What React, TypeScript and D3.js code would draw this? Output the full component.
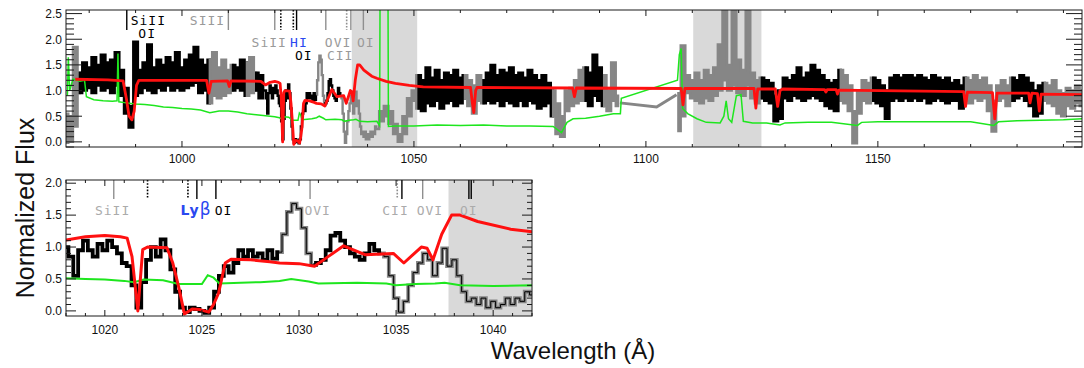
import React from 'react';
import * as d3 from 'd3';

const W = 1084;
const H = 368;

// ---------- DATA ----------
// Observed flux, 975..1017 Å: lower / upper envelope within each 1 Å bin
const fluxLoA = [
  -0.02, 0.0, 0.3, 0.95, 1.0, 1.05, 0.95, 1.1, 1.0, 1.05,
  0.95, 1.1, 0.9, 0.55, 0.28, 0.9, 0.95, 1.05, 1.0, 0.95,
  1.05, 1.0, 1.1, 1.0, 1.05, 1.0, 1.05, 1.1, 1.15, 0.95,
  1.0, 0.75, 0.9, 0.85, 0.9, 0.95, 1.0, 1.05, 1.0, 0.9,
  0.95, 1.0, 0.85,
];
const fluxHiA = [
  0.55, 0.5, 1.85, 1.35, 1.55, 1.45, 1.65, 1.5, 1.7, 1.55,
  1.6, 1.75, 1.4, 1.05, 0.7, 1.95, 1.4, 1.55, 1.9, 1.45,
  1.6, 1.5, 1.65, 1.55, 1.75, 1.45, 1.6, 1.7, 1.85, 1.6,
  1.5, 1.6, 1.75, 1.45, 1.6, 1.4, 1.5, 1.45, 1.6, 1.55,
  1.65, 1.35, 1.3,
];
const fluxAStart = 975;
// Observed flux 1018..1042 Å (0.25 Å bins, zoom panel)
const fluxZoom = [
  1.0, 0.85, 0.55, 0.95, 1.1, 0.95, 0.85, 1.05, 0.95, 1.1,
  1.0, 0.9, 0.75, 0.7, 0.4, 0.05, 0.45, 0.8, 1.0, 0.85,
  1.12, 0.95, 0.65, 0.3, 0.05, -0.02, 0.05, 0.03, 0.0, -0.03,
  0.05, 0.3, 0.55, 0.7, 0.6, 0.75, 0.95, 0.85, 0.95, 0.85,
  0.9, 0.8, 0.95, 0.82, 0.92, 1.2, 1.55, 1.68, 1.6, 1.3,
  0.9, 0.72, 0.75, 0.8, 0.95, 1.18, 1.22, 1.1, 1.0, 0.9,
  0.85, 0.8, 0.9, 1.05, 0.95, 0.9, 0.85, 0.55, 0.2, -0.02,
  0.15, 0.4, 0.6, 0.75, 0.9, 0.8, 0.55, 0.75, 0.98, 0.7,
  0.8, 0.55, 0.3, 0.15, 0.2, 0.1, 0.2, 0.05, 0.15, 0.05,
  0.1, 0.2, 0.1, 0.2, 0.15, 0.3, 0.25,
];
const fluxZoomStart = 1018;
const fluxZoomStep = 0.25;
// Observed flux 1043..1094 Å (envelopes per 1 Å)
const fluxLoB = [
  0.4, 0.5, 0.35, 0.15, 0.0, 0.15, 0.5, 0.8, 0.65, 0.6,
  0.75, 0.7, 0.8, 0.65, 0.75, 0.8, 0.7, 0.75, 0.85, 0.7,
  0.55, 0.8, 0.75, 0.8, 0.75, 0.8, 0.7, 0.8, 0.75, 0.7,
  0.8, 0.7, 0.8, 0.75, 0.65, 0.7, 0.75, 0.5, 0.15, 0.1,
  0.6, 0.7, 0.75, 0.8, 0.8, 0.7, 0.9, 0.8, 0.7, 0.6,
  0.8, 0.7,
];
const fluxHiB = [
  0.6, 0.7, 0.6, 0.35, 0.15, 0.5, 0.85, 1.0, 1.3, 1.2,
  1.45, 1.25, 1.4, 1.2, 1.35, 1.3, 1.4, 1.25, 1.3, 1.2,
  1.1, 1.3, 1.2, 1.35, 1.5, 1.3, 1.4, 1.35, 1.45, 1.3,
  1.35, 1.25, 1.4, 1.3, 1.2, 1.3, 1.15, 1.0, 0.75, 0.5,
  1.0, 1.05, 1.2, 1.4, 1.45, 1.35, 1.7, 1.45, 1.3, 1.0,
  1.55, 0.9,
];
const fluxBStart = 1043;
// Straight bridge across the detector gap
const gapWave = [1094.4, 1102.3, 1106.6];
const gapFlux = [0.76, 0.68, 0.92];
// Observed flux 1107..1194 Å (envelopes per 1 Å)
const fluxLoC = [
  0.21, 0.5, 0.95, 0.85, 0.8, 0.75, 0.85, 0.8, 0.9, 1.0,
  1.2, 1.0, 1.1, 0.95, 0.9, 1.1, 0.85, 0.75, 0.85, 0.8,
  0.75, 0.4, 0.45, 0.85, 0.8, 0.9, 0.85, 0.8, 0.85, 0.9,
  0.85, 0.8, 0.7, 0.65, 0.6, 0.8, 0.75, 0.6, -0.03, 0.55,
  0.8, 0.75, 0.8, 0.75, 0.7, 0.45, 0.8, 0.85, 0.8, 0.85,
  0.8, 0.85, 0.8, 0.85, 0.75, 0.8, 0.85, 0.8, 0.75, 0.8,
  0.8, 0.65, 0.8, 0.75, 0.85, 0.8, 0.85, 0.6, 0.2, 0.8,
  0.85, 0.7, 0.8, 0.85, 0.9, 0.8, 0.7, 0.5, 0.55, 0.8,
  0.75, 0.7, 0.55, 0.5, 0.7, 0.65, 0.75, 0.7,
];
const fluxHiC = [
  0.95, 1.88, 1.3, 1.2, 1.35, 1.2, 1.4, 1.3, 1.45, 1.9,
  3.0, 1.5, 3.0, 1.6, 1.4, 3.0, 1.35, 1.2, 1.25, 1.2,
  1.15, 0.9, 1.0, 1.25, 1.2, 1.3, 1.45, 1.25, 1.35, 1.5,
  1.4, 1.3, 1.2, 1.15, 1.2, 1.4, 1.3, 1.1, 0.6, 1.0,
  1.2, 1.15, 1.25, 1.2, 1.1, 1.0, 1.25, 1.3, 1.25, 1.3,
  1.3, 1.25, 1.3, 1.25, 1.2, 1.3, 1.25, 1.2, 1.25, 1.15,
  1.2, 1.1, 1.25, 1.2, 1.3, 1.2, 1.25, 1.1, 0.8, 1.1,
  1.2, 1.1, 1.25, 1.2, 1.3, 1.25, 1.15, 1.0, 1.1, 1.15,
  1.1, 1.2, 1.0, 0.95, 1.05, 1.0, 1.1, 1.0,
];
const fluxCStart = 1107;
// Wavelength ranges drawn in grey (excluded pixels)
const maskRanges = [
  [975, 978], [1005.5, 1010.5], [1013.5, 1016], [1029, 1030.75],
  [1034.1, 1051], [1061, 1065], [1080, 1086.5], [1090.5, 1124.6],
  [1142, 1149], [1169, 1179], [1186, 1195],
];

// Model (red)
const modelWave = [
  977, 984, 987.3, 988.0, 988.6, 989.2, 989.7, 990.2, 990.7, 1005.3,
  1005.8, 1006.3, 1009.8, 1010.2, 1010.6, 1017, 1018.0, 1019.0, 1020.0, 1020.8,
  1021.15, 1021.4, 1021.7, 1021.95, 1022.2, 1023.2, 1023.5, 1023.8, 1024.1, 1024.5,
  1024.9, 1025.35, 1025.6, 1025.86, 1026.2, 1026.5, 1027.5, 1028.5, 1029.0, 1030.0,
  1030.8, 1031.5, 1032.3, 1033.4, 1034.86, 1035.4, 1036.3, 1036.6, 1036.9, 1037.35,
  1037.86, 1038.3, 1039.2, 1040.9, 1042.0, 1044, 1046, 1049, 1052, 1062.2,
  1062.6, 1062.9, 1063.3, 1063.6, 1084.2, 1084.6, 1085.0, 1107.6, 1108.0, 1108.4,
  1123.3, 1123.7, 1124.1, 1127.9, 1128.4, 1128.9, 1129.5, 1138.5, 1138.8, 1139.1,
  1141.0, 1141.3, 1141.6, 1168.5, 1168.9, 1169.3, 1174.7, 1175.2, 1175.7, 1182.5,
  1182.8, 1183.2, 1184.4, 1184.8, 1185.2, 1194,
];
const modelFlux = [
  1.22, 1.21, 1.19, 0.85, 0.5, 0.43, 0.6, 1.1, 1.2, 1.2,
  0.95, 1.18, 1.19, 1.08, 1.19, 1.18, 1.11, 1.16, 1.18, 1.16,
  1.14, 0.85, 0.0, 0.96, 1.0, 0.99, 0.75, 0.38, -0.05, 0.03,
  0.02, -0.02, 0.1, 0.28, 0.75, 0.81, 0.8, 0.77, 0.75, 0.74,
  0.7, 0.85, 1.02, 0.88, 0.9, 0.75, 1.0, 0.98, 0.8, 1.2,
  1.5, 1.5, 1.4, 1.28, 1.24, 1.18, 1.14, 1.1, 1.07, 1.06,
  0.75, 0.57, 1.0, 1.06, 1.05, 0.88, 1.05, 1.04, 0.72, 1.04,
  1.04, 0.66, 1.03, 1.03, 0.69, 1.0, 1.03, 1.02, 0.97, 1.02,
  1.02, 0.93, 1.01, 0.98, 0.69, 0.97, 0.96, 0.45, 0.95, 0.95,
  0.76, 0.95, 0.94, 0.6, 0.93, 0.92,
];

// Error spectrum (green)
const errWave = [
  975.3, 975.5, 975.8, 976.5, 978, 979, 979.4, 981, 983, 985,
  986.0, 986.2, 986.4, 988, 990, 992, 994, 996, 998, 1000,
  1002, 1004, 1006, 1008, 1010, 1012, 1014, 1016, 1018.0, 1019.0,
  1020.0, 1021.0, 1021.5, 1022.0, 1023.0, 1023.8, 1025.0, 1025.3, 1025.6, 1025.9,
  1027.0, 1028.0, 1029.0, 1029.6, 1030.5, 1031.0, 1033.0, 1034.5, 1035.0, 1036.0,
  1037.0, 1037.5, 1038.3, 1040.0, 1042.0, 1042.6, 1042.7, 1044.4, 1044.5, 1046,
  1050, 1055, 1060, 1065, 1070, 1075, 1080, 1081.8, 1083, 1084.3,
  1087, 1090, 1093, 1094.5, 1094.7, 1106.8, 1107.2, 1107.6, 1107.9, 1109,
  1111, 1113, 1116, 1116.8, 1117.3, 1117.8, 1118.5, 1119.5, 1120.5, 1121,
  1123, 1126, 1128.9, 1130, 1135, 1140, 1145.6, 1146.5, 1150, 1160,
  1170, 1175, 1176, 1180, 1185, 1190, 1194,
];
const errFlux = [
  0.9, 1.65, 1.0, 1.22, 1.18, 1.2, 0.88, 0.82, 0.8, 0.79,
  0.8, 1.72, 0.78, 0.76, 0.74, 0.73, 0.71, 0.68, 0.67, 0.65,
  0.64, 0.62, 0.57, 0.6, 0.6, 0.58, 0.55, 0.53, 0.51, 0.5,
  0.49, 0.47, 0.45, 0.49, 0.48, 0.42, 0.42, 0.56, 0.52, 0.43,
  0.44, 0.45, 0.47, 0.5, 0.46, 0.43, 0.44, 0.43, 0.4, 0.42,
  0.43, 0.44, 0.4, 0.39, 0.4, 0.32, 3.0, 3.0, 0.3, 0.31,
  0.31, 0.33, 0.32, 0.33, 0.31, 0.31, 0.3, 0.18, 0.38, 0.45,
  0.46, 0.5, 0.55, 0.55, 0.85, 1.2, 1.7, 1.82, 0.65, 0.55,
  0.45, 0.38, 0.37, 0.5, 0.8, 0.45, 0.38, 0.9, 0.92, 0.4,
  0.37, 0.37, 0.33, 0.37, 0.38, 0.38, 0.32, 0.38, 0.39, 0.39,
  0.39, 0.32, 0.39, 0.41, 0.42, 0.43, 0.45,
];

// Shaded (excluded) windows
const shadeTop = [[1036.6, 1050.7], [1110.2, 1124.9]];
const shadeZoom = [[1037.7, 1042]];

// Line-identification ticks
const topMarkWave = [988.1, 1010.0, 1020.0, 1021.3, 1024.0, 1024.7, 1031.0, 1035.5, 1036.4, 1039.1];
const topMarkColor = ['k', 'g', 'g', 'k', 'k', 'k', 'g', 'g', 'g', 'g'];
const topMarkDotted = [false, false, false, true, true, false, false, true, false, false];
const zoomMarkWave = [1020.46, 1022.2, 1024.28, 1024.74, 1025.72, 1030.57, 1035.06, 1035.3, 1036.37, 1038.75, 1038.87];
const zoomMarkColor = ['g', 'k', 'k', 'k', 'k', 'g', 'g', 'k', 'g', 'k', 'k'];
const zoomMarkDotted = [false, true, true, false, false, false, true, false, false, false, false];

// Line labels
const topLabelText = ['SiII', 'OI', 'SIII', 'SiII', 'HI', 'OI', 'OVI', 'CII', 'OI'];
const topLabelWave = [988.95, 990.6, 1001.7, 1015.0, 1023.3, 1024.35, 1030.8, 1031.25, 1037.7];
const topLabelRow = [0, 1, 0, 2, 2, 3, 2, 3, 2];
const topLabelColor = ['k', 'k', 'g', 'g', 'b', 'k', 'g', 'g', 'g'];
const zoomLabelText = ['SiII', 'Lyβ', 'OI', 'OVI', 'CII', 'OVI', 'OI'];
const zoomLabelWave = [1019.49, 1023.9, 1025.66, 1030.28, 1034.29, 1036.06, 1038.29];
const zoomLabelColor = ['g', 'b', 'k', 'g', 'g', 'g', 'g'];

const topXTicks = [1000, 1050, 1100, 1150];
const topYTicks = [0, 0.5, 1.0, 1.5, 2.0, 2.5];
const zoomXTicks = [1020, 1025, 1030, 1035, 1040];
const zoomYTicks = [0, 0.5, 1.0, 1.5, 2.0];

// ---------- helpers ----------
type P = [number, number];
type P3 = [number, number, number]; // wave, low, high
const specPoints: P3[] = [
  ...fluxLoA.map((f, i) => [fluxAStart + i, f, fluxHiA[i]] as P3),
  ...fluxZoom.map((f, i) => [fluxZoomStart + i * fluxZoomStep, f, f] as P3),
  ...fluxLoB.map((f, i) => [fluxBStart + i, f, fluxHiB[i]] as P3),
  ...fluxLoC.map((f, i) => [fluxCStart + i, f, fluxHiC[i]] as P3),
];
const gapPoints: P[] = gapWave.map((w, i) => [w, gapFlux[i]] as P);
const modelPoints: P[] = modelWave.map((w, i) => [w, modelFlux[i]] as P);
const errPoints: P[] = errWave.map((w, i) => [w, errFlux[i]] as P);

const isMasked = (w: number) => maskRanges.some(([a, b]) => w >= a && w < b);

function segments(pts: P3[]) {
  const segs: { masked: boolean; pts: P3[] }[] = [];
  let cur: { masked: boolean; pts: P3[] } | null = null;
  let prev: P3 | null = null;
  for (const p of pts) {
    const m = isMasked(p[0]);
    const jump = prev !== null && p[0] - prev[0] > 1.5;
    if (!cur || cur.masked !== m || jump) {
      if (cur && !jump) cur.pts.push(p);
      cur = { masked: m, pts: [p] };
      segs.push(cur);
    } else cur.pts.push(p);
    prev = p;
  }
  return segs;
}

const COL = { k: '#000000', g: '#868686', b: '#2a48f0' };
const LABEL_GRAY_TOP = '#9a9a9a';
const LABEL_GRAY_ZOOM = '#ababab';

interface Cfg {
  id: string;
  x0: number; x1: number; y0: number; y1: number;
  xDomain: [number, number]; yDomain: [number, number];
  xTicks: number[]; xMinor: number; yTicks: number[]; yMinor: number;
  yMajLen: number; yMinLen: number; xMajLen: number; xMinLen: number;
  tickLabelY: number;
  shades: number[][];
  markWave: number[]; markColor: string[]; markDotted: boolean[]; markLen: number;
  labels: { text: string; w: number; y: number; c: string }[];
  labelGray: string;
  specWidth: number; modelWidth: number; errWidth: number;
  overlay: boolean;
}

function Panel({ c }: { c: Cfg }) {
  const x = d3.scaleLinear().domain(c.xDomain).range([c.x0, c.x1]);
  const y = d3.scaleLinear().domain(c.yDomain).range([c.y1, c.y0]);
  const band = d3.area<P3>().x((d) => x(d[0])).y0((d) => y(d[1])).y1((d) => y(d[2])).curve(d3.curveStep);
  const midStep = d3.line<P3>().x((d) => x(d[0])).y((d) => y((d[1] + d[2]) / 2)).curve(d3.curveStep);
  const linLine = d3.line<P>().x((d) => x(d[0])).y((d) => y(d[1]));
  const lo = c.xDomain[0] - 0.6, hi = c.xDomain[1] + 0.6;
  const spec = specPoints.filter((p) => p[0] >= lo && p[0] <= hi);
  const segs = segments(spec);
  const near = (p: P) => p[0] >= lo - 10 && p[0] <= hi + 10;
  const model = modelPoints.filter(near);
  const err = errPoints.filter(near);
  const gap = gapPoints.filter(near);

  const xMinorTicks = d3.range(Math.ceil(c.xDomain[0] / c.xMinor), Math.floor(c.xDomain[1] / c.xMinor) + 1)
    .map((k) => k * c.xMinor);
  const yMinorTicks = d3.range(Math.ceil(c.yDomain[0] / c.yMinor - 1e-6), Math.floor(c.yDomain[1] / c.yMinor + 1e-6) + 1)
    .map((k) => Math.round(k * c.yMinor * 1000) / 1000);

  const clipId = `clip-${c.id}`;
  return (
    <g>
      <defs>
        <clipPath id={clipId}>
          <rect x={c.x0} y={c.y0} width={c.x1 - c.x0} height={c.y1 - c.y0} />
        </clipPath>
      </defs>
      <g clipPath={`url(#${clipId})`}>
        {c.shades.map(([a, b], i) => (
          <rect key={i} x={x(a)} y={c.y0} width={x(b) - x(a)} height={c.y1 - c.y0} fill="#d9d9d9" />
        ))}
        {gap.length > 0 && (
          <path d={linLine(gap) || ''} fill="none" stroke={COL.g} strokeWidth={3} />
        )}
        {segs.map((s, i) => {
          const col = s.masked ? COL.g : COL.k;
          return (
            <path key={i} d={band(s.pts) || ''} fill={col}
              stroke={col} strokeWidth={c.specWidth} strokeLinejoin="miter" />
          );
        })}
        {c.overlay && (
          <path d={midStep(spec) || ''} fill="none" stroke="#000" strokeWidth={1} />
        )}
        <path d={linLine(err) || ''} fill="none" stroke="#1ee61e" strokeWidth={c.errWidth} />
        <path d={linLine(model) || ''} fill="none" stroke="#ff1010" strokeWidth={c.modelWidth} strokeLinejoin="round" />
      </g>
      {/* line id marks */}
      {c.markWave.map((w, i) => (
        <line key={i} x1={x(w)} x2={x(w)} y1={c.y0} y2={c.y0 + c.markLen}
          stroke={c.markColor[i] === 'k' ? '#000' : '#8f8f8f'} strokeWidth={c.markDotted[i] ? 1.6 : 1.4}
          strokeDasharray={c.markDotted[i] ? '1.6,1.6' : undefined} />
      ))}
      {c.labels.map((l, i) => (
        <text key={i} x={x(l.w)} y={l.y} fontFamily="'DejaVu Sans Mono', monospace" fontSize={13}
          letterSpacing={1}
          fill={l.c === 'k' ? '#000' : l.c === 'b' ? COL.b : c.labelGray}>
          {l.text === 'Lyβ' ? (
            <>
              <tspan fontFamily="'DejaVu Sans', sans-serif" fontWeight="bold" fontSize={14}>Ly</tspan>
              <tspan fontFamily="'DejaVu Sans', sans-serif" fontWeight="normal" fontSize={17}>β</tspan>
            </>
          ) : l.text}
        </text>
      ))}
      {/* frame */}
      <rect x={c.x0} y={c.y0} width={c.x1 - c.x0} height={c.y1 - c.y0} fill="none" stroke="#1a1a1a" strokeWidth={1} />
      {/* x ticks */}
      {xMinorTicks.map((t, i) => {
        const maj = c.xTicks.some((m) => Math.abs(m - t) < 1e-6);
        const len = maj ? c.xMajLen : c.xMinLen;
        return (
          <g key={i}>
            <line x1={x(t)} x2={x(t)} y1={c.y1} y2={c.y1 - len} stroke="#1a1a1a" />
            <line x1={x(t)} x2={x(t)} y1={c.y0} y2={c.y0 + len} stroke="#1a1a1a" />
          </g>
        );
      })}
      {c.xTicks.map((t, i) => (
        <text key={i} x={x(t)} y={c.tickLabelY} textAnchor="middle" fontFamily="'Liberation Sans', Arial, sans-serif"
          fontSize={12} fill="#111">{String(t)}</text>
      ))}
      {/* y ticks */}
      {yMinorTicks.map((t, i) => {
        const maj = c.yTicks.some((m) => Math.abs(m - t) < 1e-6);
        const len = maj ? c.yMajLen : c.yMinLen;
        return (
          <g key={i}>
            <line x1={c.x0} x2={c.x0 + len} y1={y(t)} y2={y(t)} stroke="#1a1a1a" />
            <line x1={c.x1} x2={c.x1 - len} y1={y(t)} y2={y(t)} stroke="#1a1a1a" />
          </g>
        );
      })}
      {c.yTicks.map((t, i) => (
        <text key={i} x={c.x0 - 4} y={y(t) + 4.3} textAnchor="end" fontFamily="'Liberation Sans', Arial, sans-serif"
          fontSize={12} fill="#111">{t.toFixed(1)}</text>
      ))}
    </g>
  );
}

const topRowY = [25, 38, 46.7, 60];

const topCfg: Cfg = {
  id: 'top', x0: 66, x1: 1082, y0: 10, y1: 147,
  xDomain: [975, 1194], yDomain: [-0.1, 2.57],
  xTicks: topXTicks, xMinor: 10, yTicks: topYTicks, yMinor: 0.1,
  yMajLen: 16, yMinLen: 8, xMajLen: 6, xMinLen: 3, tickLabelY: 163,
  shades: shadeTop,
  markWave: topMarkWave, markColor: topMarkColor, markDotted: topMarkDotted, markLen: 20,
  labels: topLabelText.map((t, i) => ({ text: t, w: topLabelWave[i], y: topRowY[topLabelRow[i]], c: topLabelColor[i] })),
  labelGray: LABEL_GRAY_TOP,
  specWidth: 2.4, modelWidth: 2.8, errWidth: 1.5, overlay: false,
};

const zoomCfg: Cfg = {
  id: 'zoom', x0: 66, x1: 532, y0: 180, y1: 316,
  xDomain: [1018, 1042], yDomain: [-0.08, 2.05],
  xTicks: zoomXTicks, xMinor: 1, yTicks: zoomYTicks, yMinor: 0.1,
  yMajLen: 10, yMinLen: 5, xMajLen: 6, xMinLen: 3, tickLabelY: 334,
  shades: shadeZoom,
  markWave: zoomMarkWave, markColor: zoomMarkColor, markDotted: zoomMarkDotted, markLen: 19,
  labels: zoomLabelText.map((t, i) => ({ text: t, w: zoomLabelWave[i], y: 215, c: zoomLabelColor[i] })),
  labelGray: LABEL_GRAY_ZOOM,
  specWidth: 3.8, modelWidth: 3, errWidth: 2, overlay: true,
};

export default function App() {
  return (
    <svg width={W} height={H} viewBox={`0 0 ${W} ${H}`}
      style={{ position: 'absolute', left: 0, top: 0, background: '#fff' }}>
      <rect x={0} y={0} width={W} height={H} fill="#fff" />
      <Panel c={topCfg} />
      <Panel c={zoomCfg} />
      <text transform="translate(34,208) rotate(-90)" textAnchor="middle"
        fontFamily="'Liberation Sans', Arial, sans-serif" fontSize={25} fill="#111">Normalized Flux</text>
      <text x={573} y={359} textAnchor="middle"
        fontFamily="'Liberation Sans', Arial, sans-serif" fontSize={24} fill="#111">Wavelength (Å)</text>
    </svg>
  );
}
